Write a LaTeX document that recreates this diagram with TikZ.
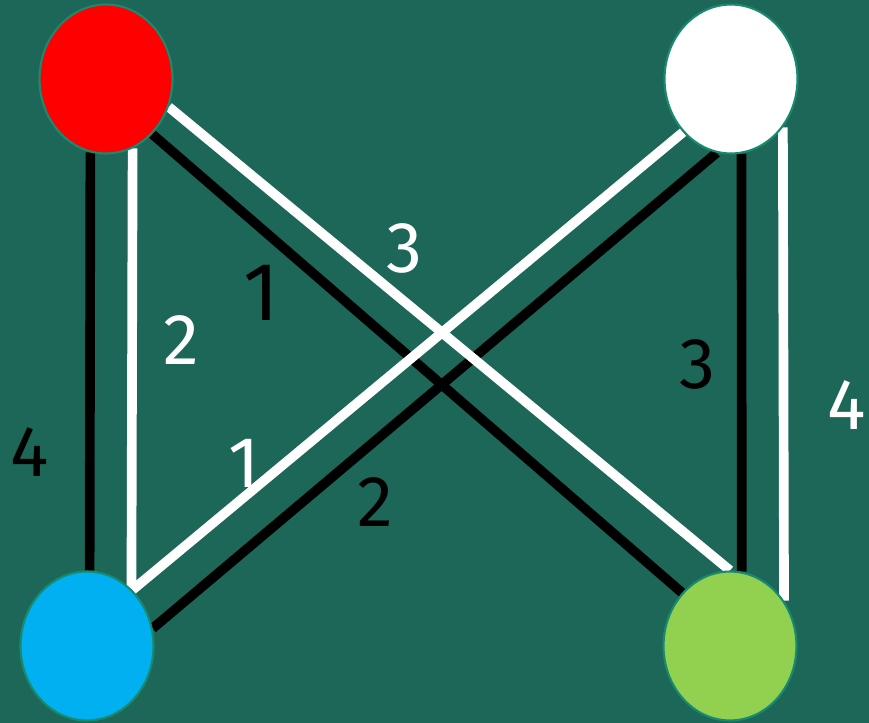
\documentclass[tikz,border=0pt]{standalone}
\usepackage{fontspec}
\setsansfont{Fira Sans}
\usetikzlibrary{shapes.geometric}

\definecolor{board}{RGB}{29,103,88}
\definecolor{rim}{RGB}{24,138,112}
\definecolor{vred}{RGB}{255,0,0}
\definecolor{vblue}{RGB}{0,176,240}
\definecolor{vgreen}{RGB}{146,208,80}

\pgfdeclarelayer{backdrop}
\pgfdeclarelayer{edges}
\pgfsetlayers{backdrop,edges,main}

\begin{document}
\begin{tikzpicture}[x=0.02cm, y=-0.02cm,
  vertex/.style={ellipse, draw=rim, line width=1.2pt, inner sep=0pt,
    minimum width=2.66cm, minimum height=2.98cm},
  edge/.style={line width=5.5pt},
  wt/.style={font=\sffamily\fontsize{41}{41}\selectfont, inner sep=0pt}]

\begin{pgfonlayer}{backdrop}
  \fill[board] (0,0) rectangle (869,723);
\end{pgfonlayer}

%-- the four vertices
\node[vertex, fill=vred]   (Vr) at (106, 79) {};
\node[vertex, fill=white]  (Vw) at (731, 79) {};
\node[vertex, fill=vblue]  (Vb) at ( 87,646) {};
\node[vertex, fill=vgreen] (Vg) at (730,646) {};

%-- two parallel edges per pair, black first, white over it
\begin{pgfonlayer}{edges}
\foreach \s/\e in {Vr.258/Vb.88, Vr.-50/Vg.132, Vb.15/Vw.259, Vw.-82/Vg.81}
  \draw[edge, black] (\s) -- (\e);
\foreach \s/\e in {Vr.-69/Vb.52, Vr.-24/Vg.90, Vb.51/Vw.228, Vw.-43/Vg.40}
  \draw[edge, white] (\s) -- (\e);
\end{pgfonlayer}

%-- edge weights
\node[wt, black] (nRBk) at ( 30,452) {4};
\node[wt, white] (nRBw) at (181,340) {2};
\node[wt, black, font=\sffamily\fontsize{47}{47}\selectfont] (nRGk) at (261,293) {1};
\node[wt, white] (nRGw) at (404,248) {3};
\node[wt, white] (nBWw) at (244,463) {1};
\node[wt, black] (nBWk) at (375,502) {2};
\node[wt, black] (nWGk) at (697,364) {3};
\node[wt, white] (nWGw) at (847,405) {4};

\end{tikzpicture}
\end{document}
